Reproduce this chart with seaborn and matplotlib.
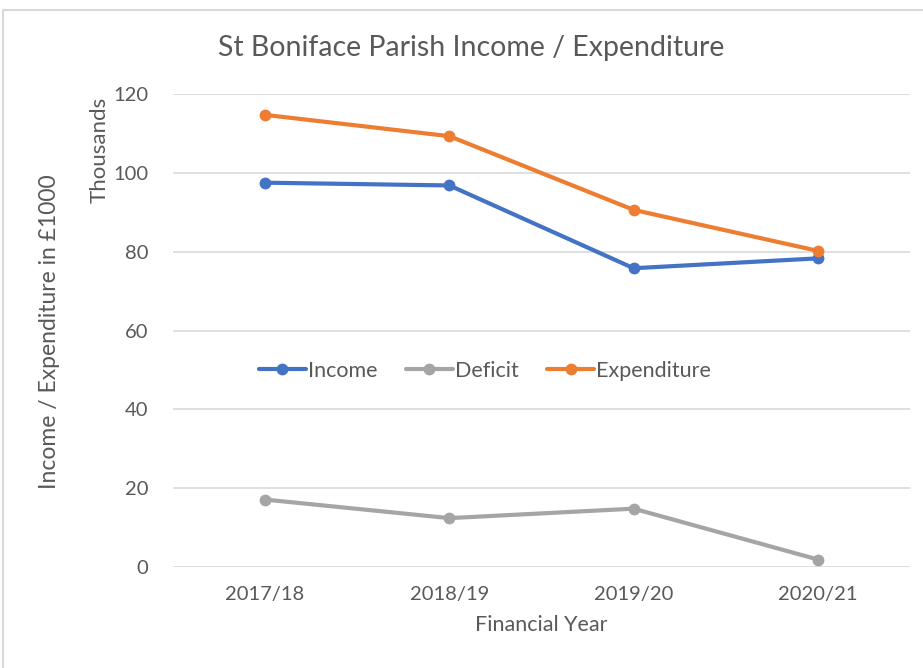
import pandas as pd
import matplotlib.pyplot as plt
import seaborn as sns
from matplotlib.patches import Rectangle

years = ["2017/18", "2018/19", "2019/20", "2020/21"]
income = [97.5, 96.8, 75.8, 78.3]
deficit = [17.1, 12.4, 14.8, 1.9]
expenditure = [114.7, 109.3, 90.6, 80.2]
series_names = ["Income", "Deficit", "Expenditure"]
colors = {"Income": "#4472C4", "Deficit": "#A5A5A5", "Expenditure": "#ED7D31"}

# long format for seaborn
df = pd.concat([
    pd.DataFrame({"year": years, "value": income, "series": "Income"}),
    pd.DataFrame({"year": years, "value": deficit, "series": "Deficit"}),
    pd.DataFrame({"year": years, "value": expenditure, "series": "Expenditure"}),
])

sns.set_style("white")
plt.rcParams["font.family"] = ["Lato", "DejaVu Sans"]
text_col = "#595959"

fig = plt.figure(figsize=(9.23, 6.68), dpi=100)
ax = fig.add_axes([173 / 923, 101 / 668, 737 / 923, 473 / 668])

sns.lineplot(data=df, x="year", y="value", hue="series", hue_order=series_names,
             palette=colors, marker="o", markersize=8.5, markeredgewidth=0,
             linewidth=3, ax=ax, sort=False)

ax.set_xlim(-0.5, 3.5)
ax.set_ylim(0, 120)
ax.set_yticks(range(0, 121, 20))
ax.yaxis.grid(True, color="#D9D9D9", linewidth=1.2)
ax.set_axisbelow(True)
for s in ax.spines.values():
    s.set_visible(False)
ax.tick_params(axis="both", length=0, labelsize=14.5, labelcolor=text_col)
ax.tick_params(axis="y", pad=18)
ax.tick_params(axis="x", pad=14)

ax.set_xlabel("Financial Year", fontsize=15.5, color=text_col, labelpad=8)
ax.set_ylabel("")
fig.text(50 / 923, 1 - 332 / 668, "Income / Expenditure in £1000", rotation=90,
         ha="center", va="center", fontsize=16.5, color=text_col)
# "Thousands" display-units label
fig.text(100 / 923, 1 - 150 / 668, "Thousands", rotation=90,
         ha="center", va="center", fontsize=16, color=text_col)

fig.text(471 / 923, 1 - 48 / 668, "St Boniface Parish Income / Expenditure",
         ha="center", va="center", fontsize=20.5, color=text_col)

handles, labels = ax.get_legend_handles_labels()
ax.legend(handles, labels, ncol=3, frameon=False, fontsize=15.5,
          loc="center", bbox_to_anchor=(485 / 923, 1 - 371 / 668),
          bbox_transform=fig.transFigure, handlelength=2.2, handletextpad=0.1,
          columnspacing=1.3, labelcolor=text_col)

fig.patches.append(Rectangle((3 / 923, -0.1), 1.1, 1.1 - 10 / 668,
                             transform=fig.transFigure, fill=False,
                             edgecolor="#D9D9D9", linewidth=1.5))

fig.savefig("out.png", dpi=100)
